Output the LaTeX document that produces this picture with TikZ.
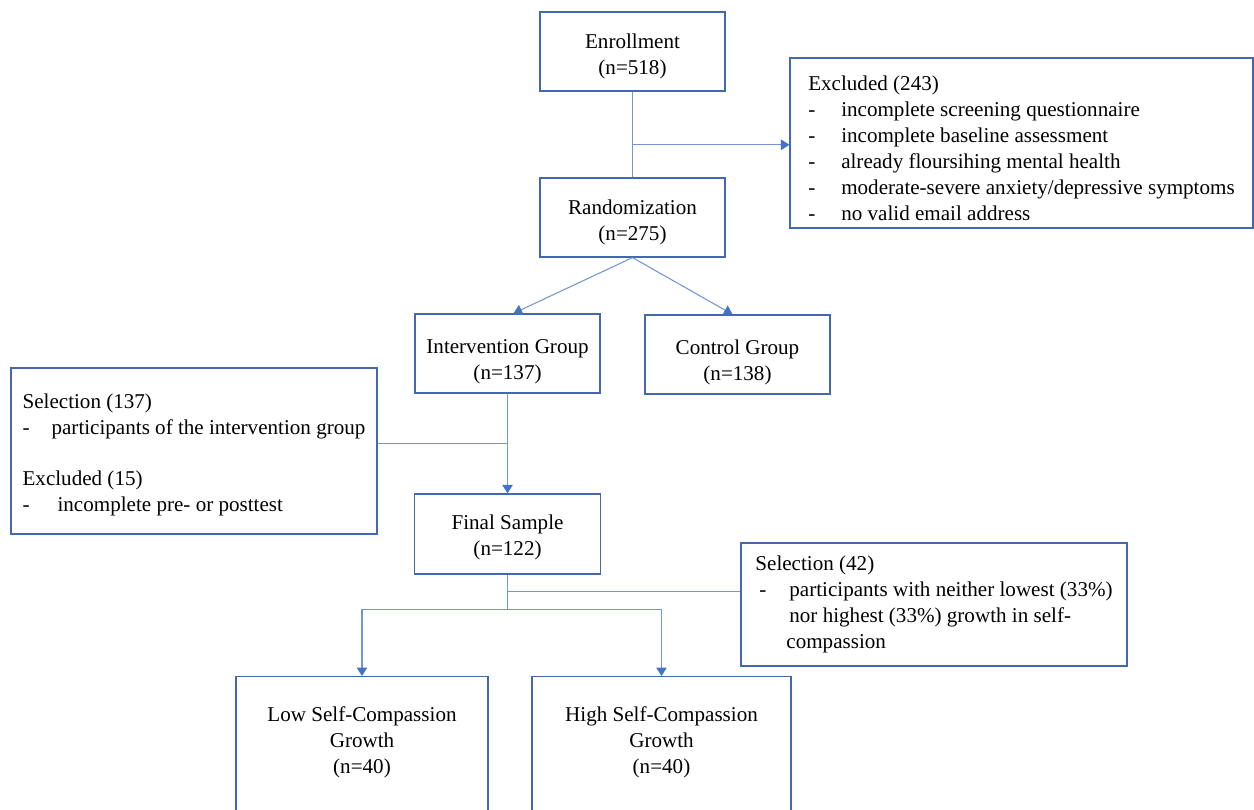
\documentclass[tikz,border=0pt]{standalone}
\usepackage{fontspec}
\setmainfont{Liberation Serif}
\usepackage{tikz}
\usetikzlibrary{positioning,arrows.meta}
\definecolor{boxblue}{HTML}{4468B0}
\definecolor{lineblue}{HTML}{7096D8}
\definecolor{tipblue}{HTML}{4472C4}
\newcommand{\itemdash}[1][0.66cm]{\makebox[#1][l]{-}}
\newcommand{\topstrut}[1][14pt]{\rule{0pt}{#1}}

\begin{document}
\begin{tikzpicture}[x=0.02cm, y=-0.02cm, node distance=3.32cm,
        every node/.style={font=\fontsize{12}{14.8}\selectfont},
        flowbox/.style={draw=boxblue, line width=0.7pt, rectangle, minimum width=3.7cm, minimum height=1.58cm, align=center, inner sep=0pt},
        listbox/.style={draw=boxblue, line width=0.7pt, rectangle, align=left, inner sep=0pt},
        conn/.style={draw=lineblue, line width=0.6pt},
        arr/.style={conn, -{Triangle[length=0.17cm, width=0.21cm, color=tipblue]}}]
        \useasboundingbox (0,0) rectangle (1254,809);
        % Enrollment node
        \node (enroll) [flowbox] at (632.5,51.5) {\topstrut Enrollment\\(n=518)};
        % Randomization node
        \node (rand) [flowbox, below of=enroll] {\topstrut Randomization\\(n=275)};
        % Excluded after enrollment
        \node (excl) [listbox, minimum width=9.26cm, minimum height=3.4cm] at (1021.5,143)
            {\topstrut Excluded (243)\\
             \itemdash incomplete screening questionnaire\\
             \itemdash incomplete baseline assessment\\
             \itemdash already floursihing mental health\\
             \itemdash moderate-severe anxiety/depressive symptoms\\
             \itemdash no valid email address};
        % Group nodes
        \node (inter) [flowbox, below of=rand, node distance=2.72cm, xshift=-2.5cm]
            {\topstrut[17pt]Intervention Group\\(n=137)};
        \node (ctrl) [flowbox, right of=inter, node distance=4.6cm, yshift=-0.02cm]
            {\topstrut[17pt]Control Group\\(n=138)};
        % Selection of the intervention group
        \node (sel1) [listbox, minimum width=7.32cm, minimum height=3.32cm] at (194,451)
            {\topstrut[13pt]Selection (137)\\
             \itemdash[0.58cm]participants of the intervention group\\[14.5pt]
             Excluded (15)\\
             \itemdash[0.7cm]incomplete pre- or posttest};
        % Final sample node
        \node (final) [flowbox, below of=inter, node distance=3.61cm, minimum width=3.72cm, minimum height=1.6cm]
            {\topstrut[12pt]Final Sample\\(n=122)};
        % Selection on growth
        \node (sel2) [listbox, minimum width=7.72cm, minimum height=2.46cm] at (934,604.5)
            {Selection (42)\\
             \hspace*{0.08cm}\itemdash[0.6cm]participants with neither lowest (33\%)\\
             \hspace*{0.68cm}nor highest (33\%) growth in self-\\
             \hspace*{0.62cm}compassion};
        % Growth groups
        \node (low) [flowbox, anchor=north, minimum width=5.04cm, minimum height=3.2cm] at (362,676)
            {Low Self-Compassion\\Growth\\(n=40)\\\strut};
        \node (high) [flowbox, anchor=north, minimum width=5.18cm, minimum height=3.2cm] at (661.5,676)
            {High Self-Compassion\\Growth\\(n=40)\\\strut};

        % Connections
        \draw[conn] (enroll) -- coordinate[pos=0.62] (split1) (rand);
        \draw[arr] (split1) -- (split1 -| excl.west);
        \draw[arr] (rand.south) -- ([xshift=0.12cm]inter.north);
        \draw[arr] (rand.south) -- ([xshift=-0.1cm]ctrl.north);
        \draw[arr] (inter) -- coordinate[pos=0.505] (join1) (final);
        \draw[conn] (sel1.east |- join1) -- (join1);
        \draw[conn] (final.south) -- coordinate[pos=0.49] (join2) ++(0,35) coordinate (split2);
        \draw[conn] (join2) -- (join2 -| sel2.west);
        \draw[arr] (split2) -| (low.north);
        \draw[arr] (split2) -| (high.north);
    \end{tikzpicture}
\end{document}
